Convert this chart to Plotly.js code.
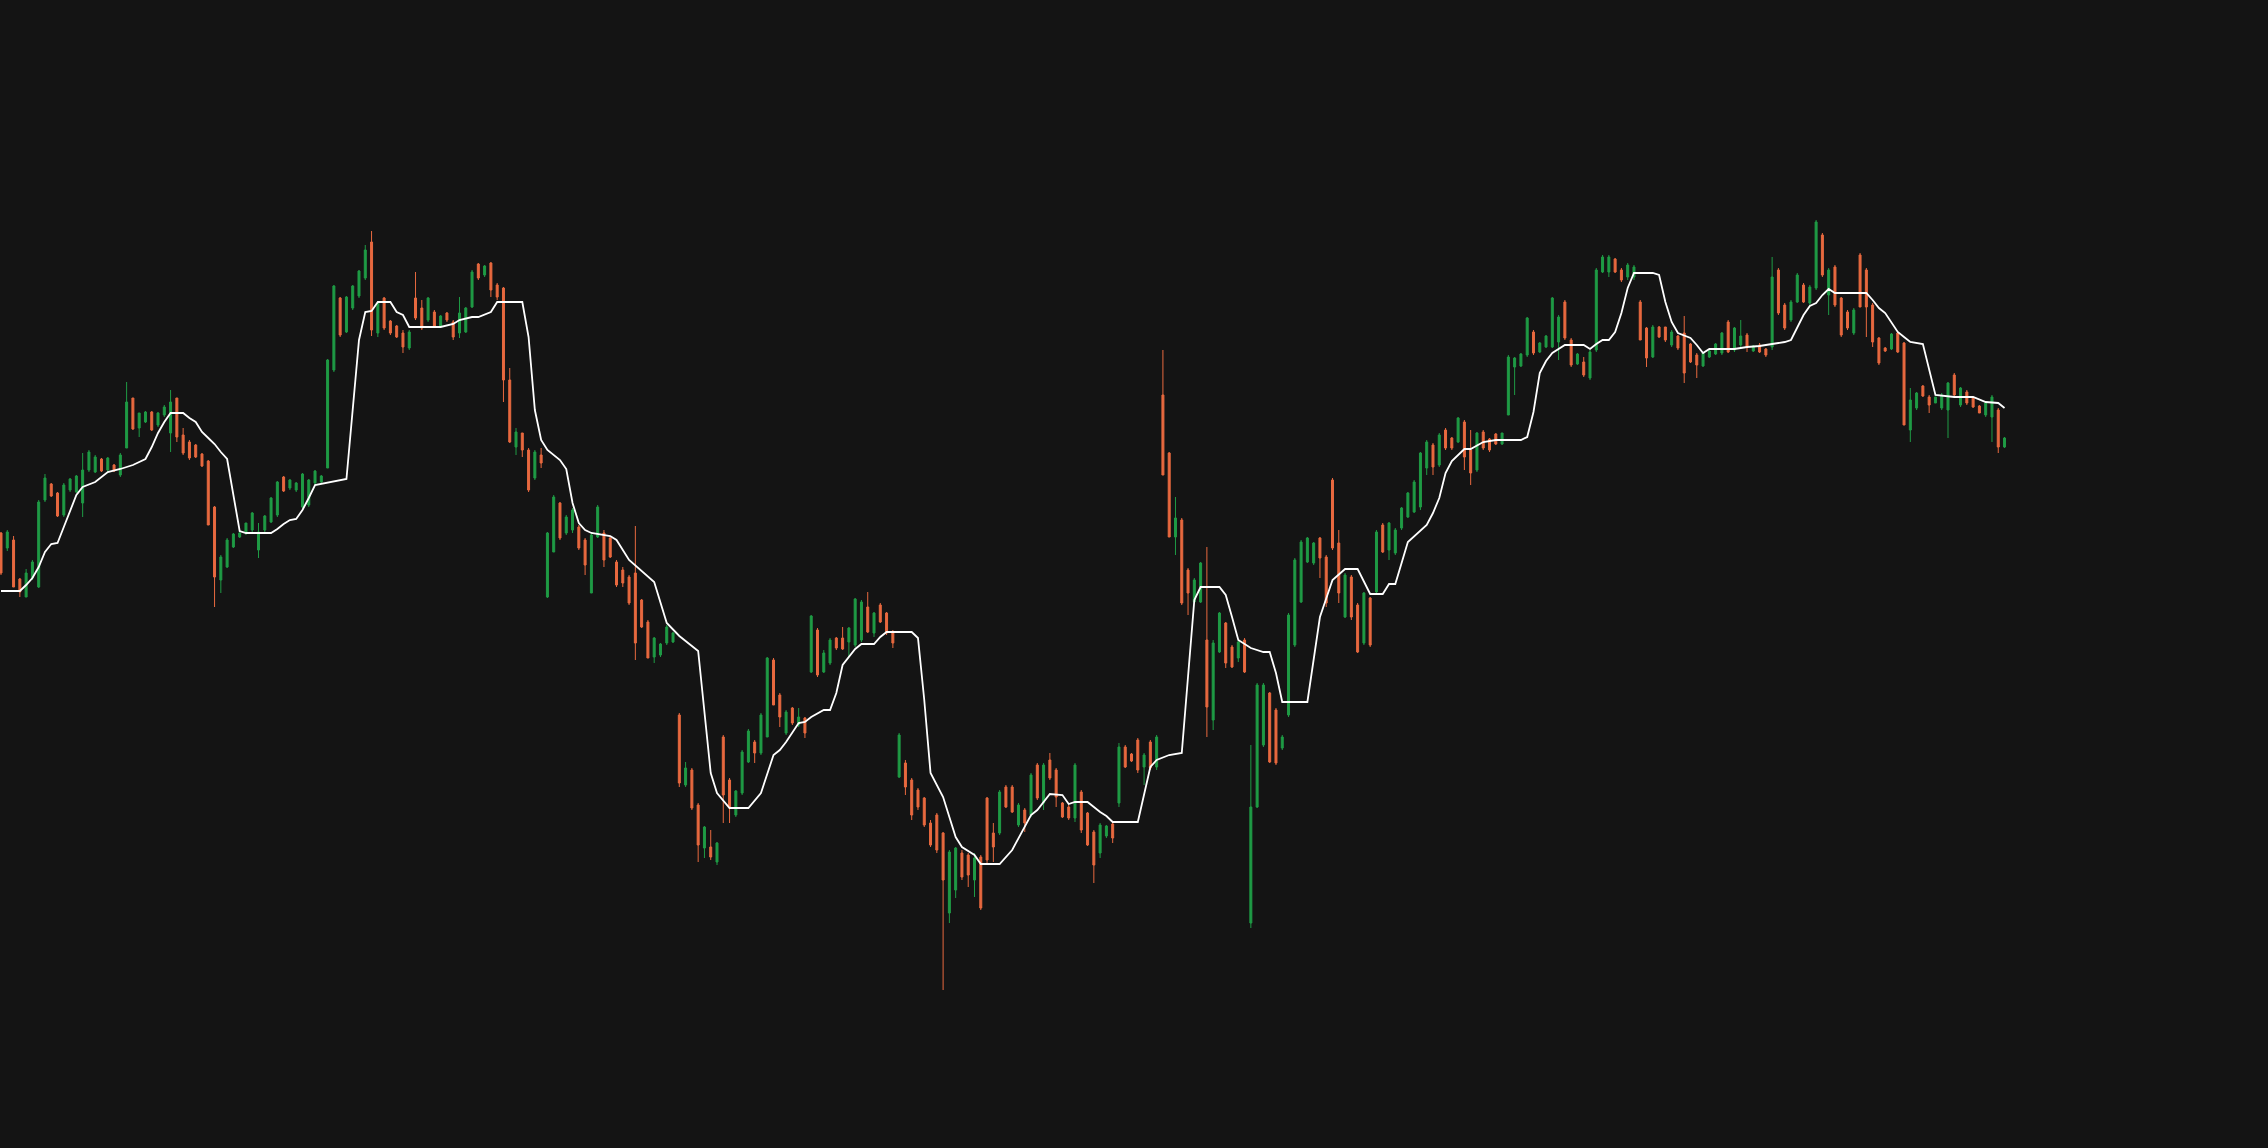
<!DOCTYPE html>
<html>
<head>
<meta charset="utf-8">
<script src="https://cdn.plot.ly/plotly-3.0.1.min.js"></script>
<style>
html,body{margin:0;padding:0;background:#141414;}
#chart{width:2268px;height:1148px;}
</style>
</head>
<body>
<div id="chart"></div>
<script>
// OHLC values (arbitrary price units)
const openVals = [615,600,608,569,551,570,561,648,664,655,633,658,656,645,678,676,689,678,683,673,
700,750,720,726,736,723,733,715,750,713,706,703,694,687,641,568,581,601,611,615,
618,598,618,626,633,671,660,658,641,643,665,666,680,778,850,816,840,852,870,906,
815,850,827,822,815,800,850,840,828,836,822,835,826,815,816,841,884,873,885,863,
860,768,701,715,698,670,693,551,596,645,615,618,621,608,555,611,615,610,586,578,
571,575,548,526,491,493,505,506,433,363,378,343,300,301,286,411,368,333,355,386,
406,395,411,488,453,415,440,423,430,476,518,476,485,510,510,506,503,508,541,515,
543,535,515,371,385,368,358,350,325,333,315,235,258,295,293,268,291,350,315,315,
361,361,323,338,333,383,345,388,378,345,341,330,356,335,316,295,312,324,345,401,
394,408,381,406,381,753,695,611,628,578,546,546,508,428,496,525,501,490,508,225,
341,403,455,438,400,433,503,546,586,585,610,591,668,605,531,571,543,505,550,556,
623,598,595,620,631,636,641,680,703,683,718,710,706,726,698,678,716,709,714,704,
733,781,782,793,816,796,801,801,806,846,808,784,786,770,798,876,876,889,878,871,
871,846,820,791,821,821,803,812,815,804,793,782,791,794,795,826,798,803,813,797,
803,799,801,878,843,828,846,863,845,860,913,853,881,850,836,815,893,878,843,810,
800,799,815,805,718,740,762,751,745,740,738,773,743,756,750,742,733,731,738,701];
const highVals = [616,618,612,570,579,588,648,674,665,656,665,670,673,695,698,693,690,691,684,695,
766,750,735,737,737,736,743,758,750,720,708,704,695,688,642,593,610,615,616,625,
636,625,633,651,667,672,669,666,675,669,678,673,789,863,851,852,863,878,903,917,
846,851,828,823,818,818,876,848,851,838,833,836,828,851,841,878,885,883,886,865,
861,780,720,715,700,698,700,616,653,646,633,640,623,610,615,643,618,611,588,581,
573,622,549,528,511,505,523,516,435,386,380,345,322,318,306,413,370,358,398,419,
408,435,491,490,455,438,441,440,431,533,520,498,510,511,521,521,550,548,556,536,
545,536,518,415,388,370,360,351,328,335,316,298,301,298,295,295,293,351,325,358,
363,363,345,340,375,385,385,395,380,346,343,385,358,336,318,325,323,326,405,403,
395,410,395,408,413,798,696,651,630,580,570,586,601,508,536,526,503,508,510,403,
465,465,456,440,413,535,590,608,611,606,611,593,670,618,575,573,545,556,551,618,
625,626,620,641,656,668,696,708,705,715,720,711,731,728,718,716,718,710,715,715,
793,791,795,831,818,806,813,851,833,848,810,795,791,798,880,893,893,890,880,885,
883,848,821,823,822,821,818,813,832,805,795,796,798,805,816,828,821,828,815,803,
805,800,891,880,845,848,875,865,863,928,915,880,883,851,838,840,895,880,845,811,
801,815,816,806,760,756,763,753,751,755,766,775,761,758,751,743,746,753,740,711];
const lowVals = [573,597,561,551,551,568,560,646,651,631,631,656,655,631,676,675,676,676,676,671,
700,718,711,725,717,721,731,696,706,693,688,690,681,623,541,555,580,600,610,613,
616,590,616,625,631,656,658,656,640,641,663,665,680,776,811,815,838,850,868,812,
811,818,813,810,795,798,828,818,826,820,821,826,808,810,815,840,868,871,851,848,
746,705,693,691,656,668,680,550,596,608,613,615,598,573,555,610,581,590,561,561,
543,488,520,490,485,491,503,505,361,361,338,286,290,288,283,325,325,331,353,385,
385,393,411,443,421,413,423,421,410,475,471,475,483,498,498,491,501,506,515,511,
525,513,500,370,353,328,338,321,301,295,158,225,250,268,261,251,238,285,286,313,
340,335,321,316,331,348,338,368,341,330,328,326,315,302,265,290,310,305,341,380,
386,375,363,378,378,673,611,593,543,533,545,545,411,418,495,480,480,486,475,220,
340,401,385,383,398,431,501,545,585,583,570,541,598,545,530,528,495,503,501,555,
595,588,593,618,630,635,638,673,673,681,698,698,705,678,663,676,698,696,703,703,
733,753,781,791,793,795,800,800,788,808,781,783,771,768,796,875,871,875,866,868,
868,808,781,790,810,806,801,798,765,785,770,781,790,793,793,795,796,801,796,796,
795,791,798,833,818,826,845,845,843,858,871,833,841,811,818,813,841,811,801,783,
796,798,795,723,706,738,751,735,745,738,710,751,741,743,740,735,731,706,695,700];
const closeVals = [575,616,561,556,575,586,646,670,652,632,663,669,672,678,696,691,677,690,677,693,
746,719,735,736,718,735,741,746,711,695,690,691,682,623,571,591,608,614,615,625,
635,616,632,650,666,657,668,665,674,668,677,672,788,862,813,851,862,877,898,818,
845,820,815,811,801,816,830,820,850,821,832,828,811,835,840,876,870,882,858,851,
768,706,716,698,658,696,685,615,651,610,631,638,600,583,613,641,588,591,563,565,
545,505,521,490,510,504,521,515,365,380,340,303,321,291,305,353,340,357,396,417,
395,433,490,443,431,436,425,431,415,532,473,495,508,500,499,520,549,546,516,535,
526,515,505,413,361,333,341,323,303,298,268,296,300,271,273,290,240,288,301,356,
341,336,343,325,373,350,383,370,351,331,330,383,318,303,283,323,322,310,401,381,
387,378,393,380,411,673,611,630,545,555,568,585,441,505,535,485,481,506,476,341,
463,463,386,385,411,533,588,606,610,605,590,545,600,555,573,531,496,555,503,616,
596,625,618,640,655,666,695,706,681,713,700,700,730,691,675,715,700,698,704,715,
791,790,794,830,795,805,812,850,831,810,783,794,773,796,878,891,891,876,868,883,
881,808,790,821,811,808,816,800,775,786,783,795,797,804,815,796,820,812,801,802,
796,793,871,835,820,846,873,846,861,926,873,878,843,813,820,838,841,841,806,785,
797,814,796,723,748,755,752,743,751,753,765,753,760,745,741,735,745,751,701,710];

// White indicator line: vertices (candle index, value)
const lineIdx = [0,3,4,5,6,7,8,9,10,11,12,13,15,17,19,21,23,24,25,26,27,29,30,31,32,33,34,35,36,38,
39,43,44,45,46,47,48,49,50,55,56,57,58,59,60,62,63,64,65,70,72,73,75,76,78,79,83,84,85,86,
87,89,90,91,92,93,94,96,97,98,100,104,106,108,111,113,114,116,119,121,123,124,125,127,128,129,131,132,133,134,
136,137,139,140,141,145,146,147,148,150,152,153,155,156,159,161,164,165,167,169,170,171,173,175,176,177,181,183,184,186,
188,190,191,194,195,196,197,199,201,202,203,204,208,210,212,214,216,218,220,221,222,224,226,227,228,229,230,231,233,234,
236,238,242,243,244,245,246,247,249,252,253,254,255,256,257,258,259,260,263,264,265,266,267,269,270,271,272,276,278,280,
282,283,284,285,286,287,288,289,290,291,292,297,298,299,300,301,302,303,304,306,307,308,311,314,316,318,319];
const lineVal = [557,557,563,570,581,596,604,605,621,638,653,661,666,676,679,683,689,701,715,726,735,735,730,726,716,710,704,696,689,617,
615,615,619,624,628,629,638,650,663,669,735,808,836,837,846,846,836,833,821,821,824,828,831,831,836,846,846,811,738,708,
698,688,679,645,625,618,615,613,612,608,588,566,525,512,497,375,355,340,340,355,393,398,406,425,426,431,438,438,455,483,
499,504,504,511,516,516,510,448,375,351,311,301,293,284,284,298,333,338,354,353,344,346,346,336,332,326,326,381,388,393,
395,548,561,561,553,531,508,500,496,496,475,446,446,531,568,579,579,554,554,564,564,606,617,623,635,650,675,687,699,699,
706,708,708,711,736,775,787,795,803,803,799,804,808,808,816,835,860,875,875,873,846,826,815,810,803,795,799,799,801,802,
804,805,806,808,820,833,842,845,853,859,855,855,848,840,835,826,816,811,806,804,778,753,751,751,746,745,740];

const xIdx = openVals.map((_, i) => i);

const candle = {
  type: 'candlestick',
  x: xIdx,
  open: openVals,
  high: highVals,
  low: lowVals,
  close: closeVals,
  increasing: {line: {color: '#1f9b45', width: 1}, fillcolor: '#1f9b45'},
  decreasing: {line: {color: '#e8693f', width: 1}, fillcolor: '#e8693f'},
  whiskerwidth: 0,
  hoverinfo: 'skip',
  showlegend: false
};

const ind = {
  type: 'scatter',
  mode: 'lines',
  x: lineIdx,
  y: lineVal,
  line: {color: '#ffffff', width: 1.8},
  hoverinfo: 'skip',
  showlegend: false
};

const layout = {
  width: 2268,
  height: 1148,
  margin: {l: 0, r: 0, t: 0, b: 0, pad: 0},
  paper_bgcolor: '#141414',
  plot_bgcolor: '#141414',
  boxgap: 0.55,
  showlegend: false,
  xaxis: {
    range: [-0.16, 360.95],
    visible: false,
    showgrid: false,
    zeroline: false,
    rangeslider: {visible: false},
    fixedrange: true
  },
  yaxis: {
    range: [0, 1148],
    visible: false,
    showgrid: false,
    zeroline: false,
    fixedrange: true
  }
};

Plotly.newPlot('chart', [candle, ind], layout, {staticPlot: true, displayModeBar: false});
</script>
</body>
</html>
